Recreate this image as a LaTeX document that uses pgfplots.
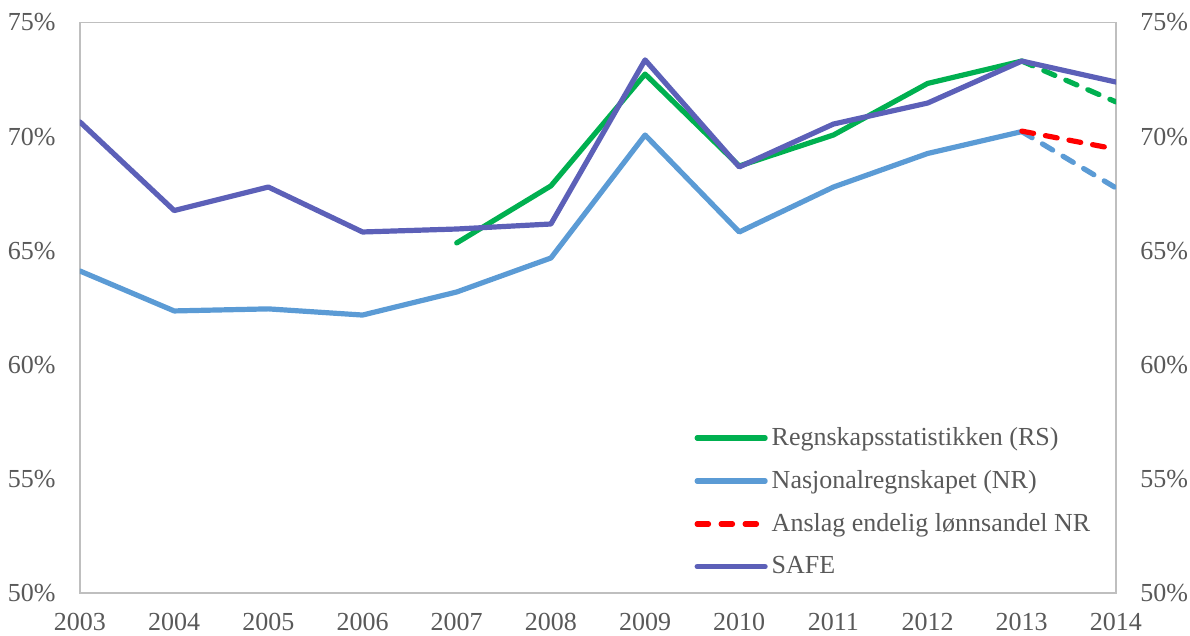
\documentclass[border=0pt]{standalone}
\usepackage{fontspec}
\setmainfont{Liberation Serif}
\usepackage{pgfplots}
\pgfplotsset{compat=1.18}

\definecolor{rsgreen}{RGB}{0,176,80}
\definecolor{nrblue}{RGB}{91,155,213}
\definecolor{safe}{RGB}{92,96,184}
\definecolor{txtgray}{RGB}{89,89,89}
\definecolor{axgray}{RGB}{191,191,191}

\pgfplotsset{
  every axis/.append style={font=\fontsize{13}{15.6}\selectfont},
  dashline/.style={line width=2.6pt, line cap=round, dash pattern=on 6pt off 6pt},
  solidline/.style={line width=2.6pt, line join=round, line cap=round},
}

\begin{document}
\begin{tikzpicture}
\begin{axis}[
  scale only axis,
  width=518pt, height=285.25pt,
  xmin=2003, xmax=2014, ymin=50, ymax=75,
  xtick={2003,...,2014},
  xticklabels={2003,2004,2005,2006,2007,2008,2009,2010,2011,2012,2013,2014},
  ytick={50,55,...,75},
  yticklabels={50\%,55\%,60\%,65\%,70\%,75\%},
  /pgf/number format/assume math mode=true,
  major tick length=0pt,
  axis line style={draw=axgray, line width=0.75pt},
  tick label style={text=txtgray},
  y tick label style={inner sep=0pt, xshift=-12pt},
  x tick label style={inner sep=0pt, yshift=-10pt},
  legend style={at={(rel axis cs:0.587,0.305)}, anchor=north west,
    draw=none, fill=none, text=txtgray, row sep=7pt,
    font=\fontsize{13}{15.6}\selectfont},
  legend cell align=left,
  legend image code/.code={\draw[#1] (0pt,0pt) -- (34pt,0pt);},
]
% Nasjonalregnskapet
\addplot[solidline, nrblue, forget plot] coordinates {
  (2003,64.11) (2004,62.36) (2005,62.45) (2006,62.18) (2007,63.19)
  (2008,64.68) (2009,70.07) (2010,65.82) (2011,67.79) (2012,69.26)
  (2013,70.22)};
\addplot[dashline, nrblue, forget plot] coordinates {(2013,70.22) (2014,67.75)};
% Regnskapsstatistikken
\addplot[solidline, rsgreen, forget plot] coordinates {
  (2007,65.34) (2008,67.84) (2009,72.74) (2010,68.71) (2011,70.07)
  (2012,72.33) (2013,73.31)};
\addplot[dashline, rsgreen, forget plot] coordinates {(2013,73.31) (2014,71.52)};
% Anslag endelig
\addplot[dashline, red, forget plot] coordinates {(2013,70.24) (2014,69.45)};
% SAFE
\addplot[solidline, safe, forget plot] coordinates {
  (2003,70.64) (2004,66.76) (2005,67.79) (2006,65.82) (2007,65.95)
  (2008,66.17) (2009,73.36) (2010,68.67) (2011,70.55) (2012,71.47)
  (2013,73.31) (2014,72.39)};

\addlegendimage{rsgreen, line width=2.6pt, line cap=round}
\addlegendentry{Regnskapsstatistikken (RS)}
\addlegendimage{nrblue, line width=2.6pt, line cap=round}
\addlegendentry{Nasjonalregnskapet (NR)}
\addlegendimage{red, line width=2.6pt, line cap=round, dash pattern=on 5.7pt off 6.3pt}
\addlegendentry{Anslag endelig lønnsandel NR}
\addlegendimage{safe, line width=2.6pt, line cap=round}
\addlegendentry{SAFE}
\end{axis}
\begin{axis}[
  scale only axis,
  width=518pt, height=285.25pt,
  xmin=2003, xmax=2014, ymin=50, ymax=75,
  hide x axis,
  axis y line*=right,
  y axis line style={draw=none},
  ytick={50,55,...,75},
  yticklabels={50\%,55\%,60\%,65\%,70\%,75\%},
  major tick length=0pt,
  tick label style={text=txtgray},
  y tick label style={inner sep=0pt, xshift=12pt},
]
\addplot[draw=none] coordinates {(2003,50) (2014,75)};
\end{axis}
\useasboundingbox (-40pt,-21.5pt) rectangle (555pt,296.5pt);
\end{tikzpicture}
\end{document}
